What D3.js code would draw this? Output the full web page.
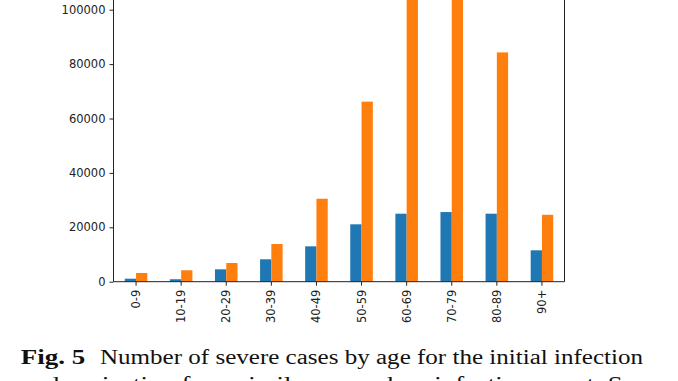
<!DOCTYPE html>
<html><head><meta charset="utf-8">
<script src="https://cdn.jsdelivr.net/npm/d3@7"></script>
<style>
html,body{margin:0;padding:0;background:#fff;}
svg{display:block;}
</style></head>
<body>
<svg id="c" width="678" height="381"></svg>
<script>
const categories = ["0-9","10-19","20-29","30-39","40-49","50-59","60-69","70-79","80-89","90+"];
const initialCases = [1100, 900, 4550, 8240, 13000, 21100, 25000, 25600, 25000, 11540];
const projectedCases = [3200, 4200, 6870, 13860, 30500, 66200, 118000, 121000, 84300, 24600];
const yTicks = [0, 20000, 40000, 60000, 80000, 100000];
const seriesColors = ["#1f77b4", "#ff7f0e"];
const captionBold = "Fig. 5";
const captionLine1 = "Number of severe cases by age for the initial infection";
const captionLine2 = "and projection for a similar secondary infection event. Some";

const svg = d3.select("#c");
const left = 113.5, right = 564.5, base = 281.7;
const ymax = d3.max(projectedCases) * 1.05;
const y = d3.scaleLinear().domain([0, 100000]).range([base, 9.7]);
const topY = y(ymax);
const x = d3.scaleBand().domain(categories).range([left, right]).paddingInner(0).paddingOuter(0);
const bw = x.bandwidth() * 0.25;

const g = svg.append("g");
const series = [initialCases, projectedCases];
series.forEach((vals, si) => {
  g.selectAll(null).data(vals).enter().append("rect")
    .attr("x", (d, i) => x(categories[i]) + x.bandwidth() / 2 - bw + si * bw)
    .attr("width", bw)
    .attr("y", d => y(d))
    .attr("height", d => base - y(d))
    .attr("fill", seriesColors[si]);
});

// spines
const spine = svg.append("g").attr("stroke", "#222").attr("stroke-width", 1).attr("fill", "none");
spine.append("line").attr("x1", left).attr("x2", left).attr("y1", topY).attr("y2", base);
spine.append("line").attr("x1", right).attr("x2", right).attr("y1", topY).attr("y2", base);
spine.append("line").attr("x1", left).attr("x2", right).attr("y1", base).attr("y2", base);

// y axis
const yAxis = d3.axisLeft(y).tickValues(yTicks).tickFormat(d3.format("d")).tickSize(4).tickPadding(4);
const ya = svg.append("g").attr("transform", `translate(${left},0)`).call(yAxis);
ya.select(".domain").remove();
ya.selectAll("line").attr("stroke", "#222");
ya.selectAll("text").attr("font-family", "DejaVu Sans").attr("font-size", 11.5).attr("fill", "#222");

// x axis
const xAxis = d3.axisBottom(x).tickSize(4).tickPadding(4);
const xa = svg.append("g").attr("transform", `translate(0,${base})`).call(xAxis);
xa.select(".domain").remove();
xa.selectAll("line").attr("stroke", "#222");
xa.selectAll("text")
  .attr("font-family", "DejaVu Sans").attr("font-size", 11.5).attr("fill", "#222")
  .attr("transform", "rotate(-90)")
  .attr("text-anchor", "end")
  .attr("x", -8).attr("y", 0).attr("dy", "0.35em");

// caption
const capFont = "Liberation Serif";
svg.append("text").attr("x", 20.7).attr("y", 364)
  .attr("font-family", capFont).attr("font-size", 20.5).attr("font-weight", "bold").attr("fill", "#111")
  .attr("textLength", 64.5).attr("lengthAdjust", "spacingAndGlyphs")
  .text(captionBold);
svg.append("text").attr("x", 100).attr("y", 364)
  .attr("font-family", capFont).attr("font-size", 20.5).attr("fill", "#111")
  .attr("textLength", 543).attr("lengthAdjust", "spacingAndGlyphs")
  .text(captionLine1);
svg.append("text").attr("x", 20.7).attr("y", 390.5)
  .attr("font-family", capFont).attr("font-size", 20.5).attr("fill", "#111")
  .attr("textLength", 648).attr("lengthAdjust", "spacingAndGlyphs")
  .text(captionLine2);
</script>
</body></html>
